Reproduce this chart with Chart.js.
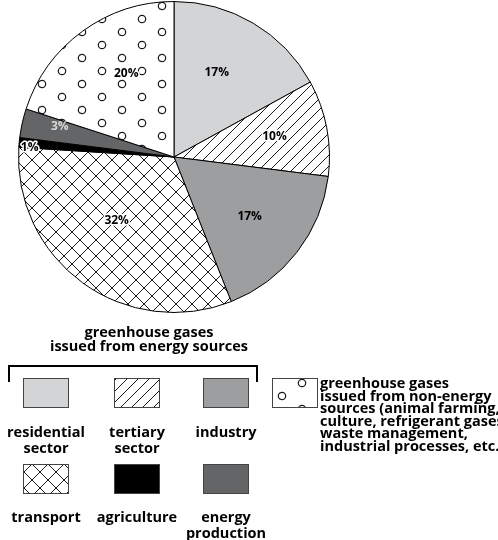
<!DOCTYPE html>
<html>
<head>
<meta charset="utf-8">
<script src="https://cdn.jsdelivr.net/npm/chart.js@4.4.1/dist/chart.umd.min.js"></script>
<style>
html,body{margin:0;padding:0;background:#fff;}
#wrap{position:relative;width:498px;height:540px;overflow:hidden;}
</style>
</head>
<body>
<div id="wrap"><canvas id="pie" width="498" height="540"></canvas></div>
<script>
// data
const categories = ['residential sector','tertiary sector','industry','transport','agriculture','energy production','non-energy sources'];
const shares = [17,10,17,32,1,3,20];
const sliceLabels = ['17%','10%','17%','32%','1%','3%','20%'];
const legendTitle = ['greenhouse gases','issued from energy sources'];
const legendNames = [['residential','sector'],['tertiary','sector'],['industry'],['transport'],['agriculture'],['energy','production']];
const otherText = ['greenhouse gases','issued from non-energy','sources (animal farming,','culture, refrigerant gases,','waste management,','industrial processes, etc.)'];

const FONT = '"Open Sans", "Noto Sans", sans-serif';
const canvas = document.getElementById('pie');
const ctx = canvas.getContext('2d');

function tile(w, h, draw){
    const c = document.createElement('canvas');
    c.width = w; c.height = h;
    const t = c.getContext('2d');
    t.fillStyle = '#fff';
    t.fillRect(0, 0, w, h);
    t.strokeStyle = '#1a1a1a';
    t.lineWidth = 1;
    draw(t, w, h);
    return ctx.createPattern(c, 'repeat');
}

// "/" hatch
const hatch = tile(11, 11, function(t, w, h){
    t.beginPath();
    for(let k = -1; k <= 1; k++){
        t.moveTo(k*w - 1, h + 1);
        t.lineTo(k*w + w + 1, -1);
    }
    t.stroke();
});

// crosshatch
const cross = tile(16, 16, function(t, w, h){
    t.beginPath();
    for(let k = -1; k <= 1; k++){
        t.moveTo(k*w - 1, h + 1);
        t.lineTo(k*w + w + 1, -1);
        t.moveTo(k*w - 1, -1);
        t.lineTo(k*w + w + 1, h + 1);
    }
    t.stroke();
});

// small open circles
const dots = tile(40, 26, function(t, w, h){
    const pts = [[2,6],[22,19]];
    t.lineWidth = 1.2;
    pts.forEach(function(p){
        for(let i = -1; i <= 1; i++){
            for(let j = -1; j <= 1; j++){
                t.beginPath();
                t.arc(p[0] + i*w, p[1] + j*h, 3.7, 0, Math.PI*2);
                t.stroke();
            }
        }
    });
});

const fills = ['#d3d4d6', hatch, '#9d9ea0', cross, '#000000', '#646567', dots];

const sliceText = {
    id: 'sliceText',
    afterDatasetsDraw(chart, args, opts){
        const c = chart.ctx;
        const arcs = chart.getDatasetMeta(0).data;
        c.save();
        c.font = 'bold 12px ' + FONT;
        c.textAlign = 'center';
        c.textBaseline = 'middle';
        arcs.forEach(function(arc, i){
            const mid = (arc.startAngle + arc.endAngle)/2 + opts.turn[i]*Math.PI/180;
            const r = arc.outerRadius * opts.radius[i];
            const x = arc.x + Math.cos(mid)*r;
            const y = arc.y + Math.sin(mid)*r;
            if(opts.halo[i]){
                c.lineWidth = 3;
                c.strokeStyle = '#fff';
                c.lineJoin = 'round';
                c.strokeText(sliceLabels[i], x, y);
            }
            c.fillStyle = opts.color[i];
            c.fillText(sliceLabels[i], x, y);
        });
        c.restore();
    }
};

const legendDraw = {
    id: 'legendDraw',
    afterDraw(chart){
        const c = chart.ctx;
        c.save();
        c.fillStyle = '#000';
        c.textAlign = 'center';
        c.textBaseline = 'alphabetic';
        c.font = 'bold 14.5px ' + FONT;
        c.fillText(legendTitle[0], 149, 337);
        c.fillText(legendTitle[1], 149, 351);

        // bracket
        c.strokeStyle = '#000';
        c.lineWidth = 2;
        c.beginPath();
        c.moveTo(9, 382);
        c.lineTo(9, 366);
        c.lineTo(257, 366);
        c.lineTo(257, 382);
        c.stroke();

        const cols = [23, 114, 203];
        const rows = [378, 464];
        const textRows = [437, 522];
        for(let i = 0; i < 6; i++){
            const x = cols[i % 3], y = rows[Math.floor(i/3)];
            c.fillStyle = fills[i];
            c.fillRect(x, y, 45, 29);
            c.lineWidth = 1;
            c.strokeStyle = '#444';
            c.strokeRect(x + 0.5, y + 0.5, 45, 29);
            c.fillStyle = '#000';
            legendNames[i].forEach(function(line, k){
                c.fillText(line, x + 23, textRows[Math.floor(i/3)] + k*16);
            });
        }

        // non-energy box
        c.fillStyle = fills[6];
        c.fillRect(272, 378, 45, 29);
        c.strokeStyle = '#444';
        c.strokeRect(272.5, 378.5, 45, 29);
        c.fillStyle = '#000';
        c.textAlign = 'left';
        otherText.forEach(function(line, k){
            c.fillText(line, 320, 388 + k*12.5);
        });
        c.restore();
    }
};

new Chart(ctx, {
    type: 'pie',
    data: {
        labels: categories,
        datasets: [{
            data: shares,
            backgroundColor: fills,
            borderColor: '#000',
            borderWidth: 1
        }]
    },
    options: {
        responsive: false,
        animation: false,
        events: [],
        layout: { padding: { left: 18, top: 1, right: 168, bottom: 227 } },
        plugins: {
            legend: { display: false },
            tooltip: { enabled: false },
            sliceText: {
                radius: [0.61, 0.66, 0.62, 0.55, 0.93, 0.76, 0.62],
                turn: [-3.8, -0.9, 0.5, 6.1, -1.8, 2.2, 6.3],
                halo: [false, true, false, true, true, false, true],
                color: ['#000', '#000', '#000', '#000', '#000', '#d8d8d8', '#000']
            }
        }
    },
    plugins: [sliceText, legendDraw]
});
</script>
</body>
</html>
